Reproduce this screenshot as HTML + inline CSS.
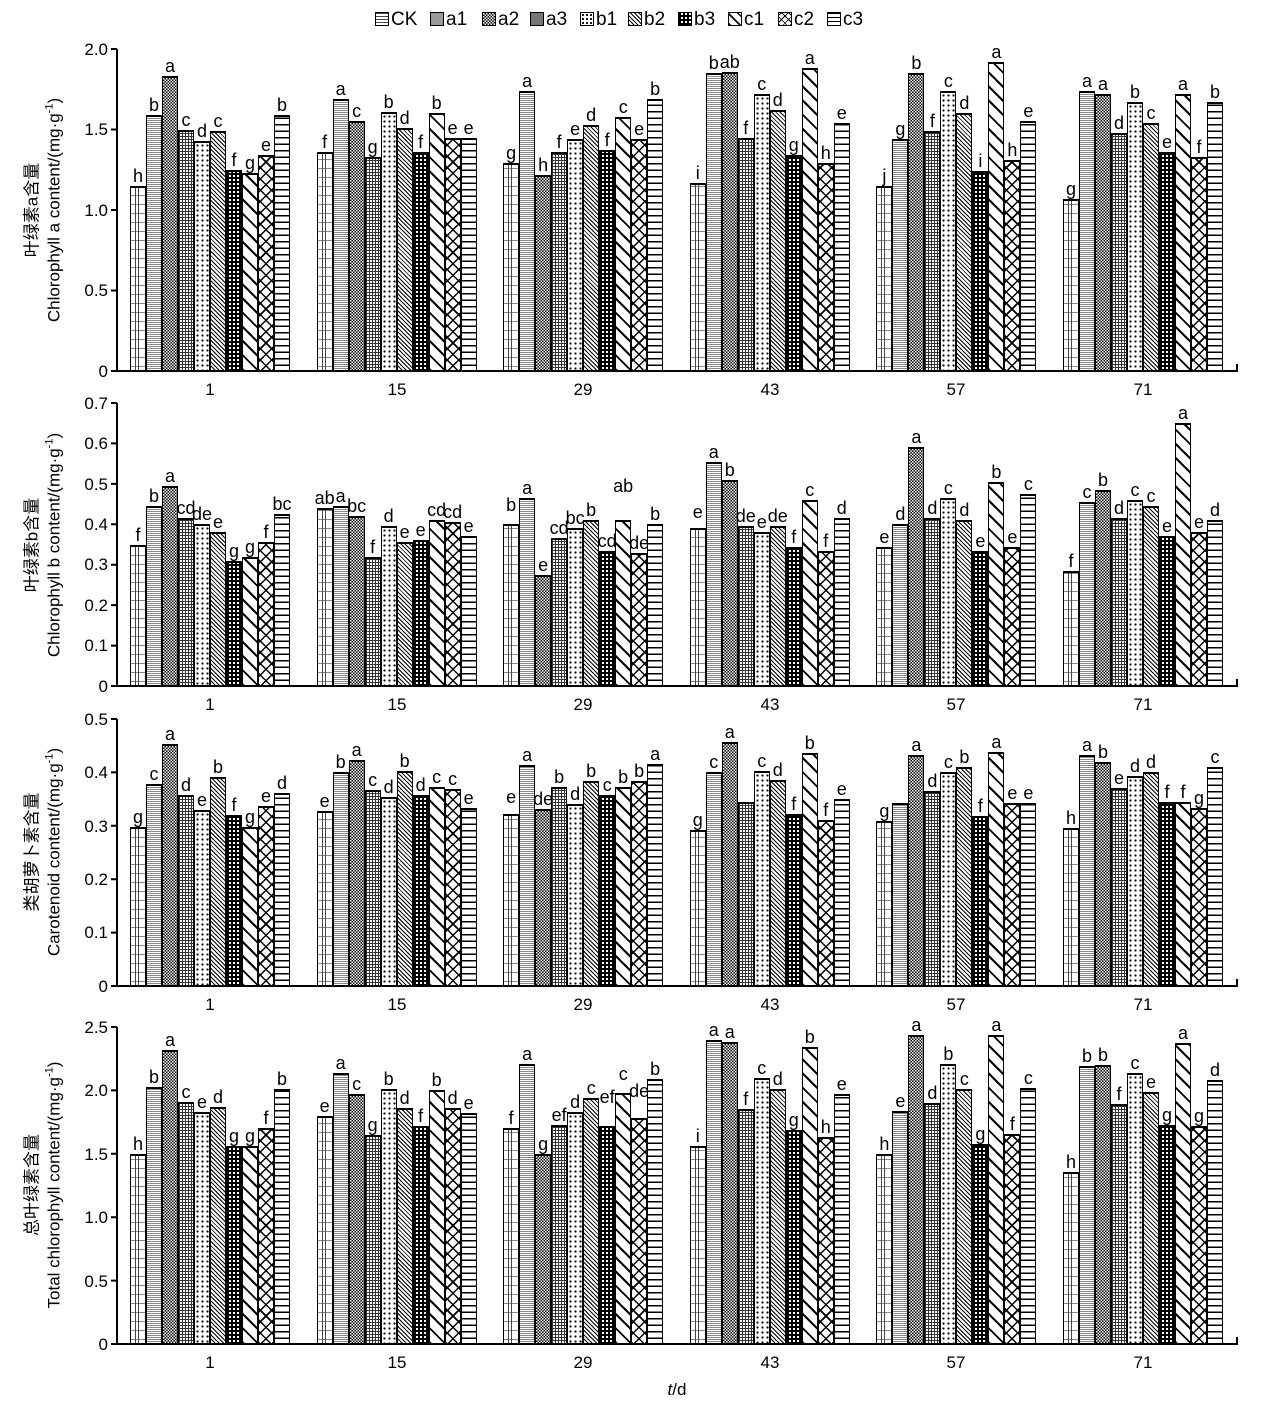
<!DOCTYPE html>
<html><head><meta charset="utf-8"><style>
body{margin:0;width:1270px;height:1412px;background:#fff;position:relative;font-family:"Liberation Sans","Noto Sans CJK SC",sans-serif;overflow:hidden}
.pl{position:absolute;left:117px;width:1120px}
.g{position:absolute;bottom:0;height:100%;width:160px;display:flex;align-items:flex-end}
.g:nth-child(1){left:13px}.g:nth-child(2){left:199.6px}.g:nth-child(3){left:386.2px}.g:nth-child(4){left:572.8px}.g:nth-child(5){left:759.4px}.g:nth-child(6){left:946px}
.g i{position:relative;display:block;font-style:normal;width:16px;flex:none;box-sizing:border-box;border:1.5px solid #000;border-top-width:2.5px;border-bottom:none;height:calc(var(--v) * var(--k));background-color:#fff}
.g i b{position:absolute;bottom:100%;left:-12px;right:-12px;text-align:center;font-weight:normal;font-style:normal;font-size:18px;line-height:1;margin-bottom:3px}
.g i:nth-child(1){background:repeating-linear-gradient(90deg,transparent 0 4px,#444 4px 5px,transparent 5px 7px,#444 7px 8px,transparent 8px 13px),repeating-linear-gradient(0deg,#fff 0 4px,#888 4px 5px,#fff 5px 9px)}
.g i:nth-child(2){background:repeating-linear-gradient(0deg,#888 0 1px,#fff 1px 2px),repeating-linear-gradient(90deg,#888 0 1px,#ddd 1px 2px)}
.g i:nth-child(3){background:conic-gradient(#000 25%,#fff 0 50%,#000 0 75%,#fff 0) 0 0/3px 3px}
.g i:nth-child(4){background:repeating-linear-gradient(0deg,#333 0 1px,transparent 1px 3px),repeating-linear-gradient(90deg,#333 0 1px,#fff 1px 3px)}
.g i:nth-child(5){background:radial-gradient(#000 0.9px,transparent 1.3px) 0 0/5px 5px,#fff}
.g i:nth-child(6){background:repeating-linear-gradient(45deg,#000 0 1px,#fff 1px 3px)}
.g i:nth-child(7){background:repeating-linear-gradient(0deg,#000 0 2px,transparent 2px 4px),repeating-linear-gradient(90deg,#000 0 2px,#fff 2px 4px)}
.g i:nth-child(8){background:repeating-linear-gradient(45deg,#000 0 2px,#fff 2px 10px)}
.g i:nth-child(9){background:repeating-linear-gradient(45deg,#000 0 1.5px,transparent 1.5px 8px),repeating-linear-gradient(-45deg,#000 0 1.5px,#fff 1.5px 8px)}
.g i:nth-child(10){background:repeating-linear-gradient(0deg,#fff 0 5px,#000 5px 6.5px)}
.yl{position:absolute;transform:translate(-50%,-50%) rotate(-90deg);white-space:nowrap;font-size:17px}
.lg{position:absolute;top:10px;font-size:19px;line-height:19px}
.lg span{position:absolute;left:0;top:2px;width:14px;height:14px;border:1px solid #000;box-sizing:border-box}
.lg em{font-style:normal;margin-left:16px}
</style></head><body>

<div class="lg" style="left:375px"><span style="background:repeating-linear-gradient(0deg,#fff 0 2px,#444 2px 3px)"></span><em>CK</em></div>
<div class="lg" style="left:430px"><span style="background:#999"></span><em>a1</em></div>
<div class="lg" style="left:482px"><span style="background:conic-gradient(#000 25%,#fff 0 50%,#000 0 75%,#fff 0) 0 0/3px 3px"></span><em>a2</em></div>
<div class="lg" style="left:530px"><span style="background:#777"></span><em>a3</em></div>
<div class="lg" style="left:580px"><span style="background:radial-gradient(#000 0.9px,transparent 1.3px) 0 0/4px 4px,#fff"></span><em>b1</em></div>
<div class="lg" style="left:628px"><span style="background:repeating-linear-gradient(45deg,#000 0 1px,#fff 1px 3px)"></span><em>b2</em></div>
<div class="lg" style="left:678px"><span style="background:repeating-linear-gradient(0deg,#000 0 2px,transparent 2px 4px),repeating-linear-gradient(90deg,#000 0 2px,#fff 2px 4px)"></span><em>b3</em></div>
<div class="lg" style="left:728px"><span style="background:repeating-linear-gradient(45deg,#000 0 1.5px,#fff 1.5px 7px)"></span><em>c1</em></div>
<div class="lg" style="left:778px"><span style="background:repeating-linear-gradient(45deg,#000 0 1px,transparent 1px 5px),repeating-linear-gradient(-45deg,#000 0 1px,#fff 1px 5px)"></span><em>c2</em></div>
<div class="lg" style="left:827px"><span style="background:repeating-linear-gradient(0deg,#fff 0 3px,#000 3px 4px)"></span><em>c3</em></div>

<!-- Panel 1 -->
<div class="pl" style="top:49px;height:322px;--k:50%">
<div class="g"><i style="--v:1.15"><b>h</b></i><i style="--v:1.59"><b>b</b></i><i style="--v:1.83"><b>a</b></i><i style="--v:1.50"><b>c</b></i><i style="--v:1.43"><b>d</b></i><i style="--v:1.49"><b>c</b></i><i style="--v:1.25"><b>f</b></i><i style="--v:1.23"><b>g</b></i><i style="--v:1.34"><b>e</b></i><i style="--v:1.59"><b>b</b></i></div>
<div class="g"><i style="--v:1.36"><b>f</b></i><i style="--v:1.69"><b>a</b></i><i style="--v:1.55"><b>c</b></i><i style="--v:1.33"><b>g</b></i><i style="--v:1.61"><b>b</b></i><i style="--v:1.51"><b>d</b></i><i style="--v:1.36"><b>f</b></i><i style="--v:1.60"><b>b</b></i><i style="--v:1.45"><b>e</b></i><i style="--v:1.45"><b>e</b></i></div>
<div class="g"><i style="--v:1.29"><b>g</b></i><i style="--v:1.74"><b>a</b></i><i style="--v:1.22"><b>h</b></i><i style="--v:1.36"><b>f</b></i><i style="--v:1.44"><b>e</b></i><i style="--v:1.53"><b>d</b></i><i style="--v:1.37"><b>f</b></i><i style="--v:1.58"><b>c</b></i><i style="--v:1.44"><b>e</b></i><i style="--v:1.69"><b>b</b></i></div>
<div class="g"><i style="--v:1.17"><b>i</b></i><i style="--v:1.85"><b>b</b></i><i style="--v:1.86"><b>ab</b></i><i style="--v:1.45"><b>f</b></i><i style="--v:1.72"><b>c</b></i><i style="--v:1.62"><b>d</b></i><i style="--v:1.34"><b>g</b></i><i style="--v:1.88"><b>a</b></i><i style="--v:1.29"><b>h</b></i><i style="--v:1.54"><b>e</b></i></div>
<div class="g"><i style="--v:1.15"><b>j</b></i><i style="--v:1.44"><b>g</b></i><i style="--v:1.85"><b>b</b></i><i style="--v:1.49"><b>f</b></i><i style="--v:1.74"><b>c</b></i><i style="--v:1.60"><b>d</b></i><i style="--v:1.24"><b>i</b></i><i style="--v:1.92"><b>a</b></i><i style="--v:1.31"><b>h</b></i><i style="--v:1.55"><b>e</b></i></div>
<div class="g"><i style="--v:1.07"><b>g</b></i><i style="--v:1.74"><b>a</b></i><i style="--v:1.72"><b>a</b></i><i style="--v:1.48"><b>d</b></i><i style="--v:1.67"><b>b</b></i><i style="--v:1.54"><b>c</b></i><i style="--v:1.36"><b>e</b></i><i style="--v:1.72"><b>a</b></i><i style="--v:1.33"><b>f</b></i><i style="--v:1.67"><b>b</b></i></div>
</div>

<!-- Panel 2 -->
<div class="pl" style="top:403px;height:283px;--k:142.857%">
<div class="g"><i style="--v:.35"><b>f</b></i><i style="--v:.445"><b>b</b></i><i style="--v:.495"><b>a</b></i><i style="--v:.415"><b>cd</b></i><i style="--v:.40"><b>de</b></i><i style="--v:.38"><b>e</b></i><i style="--v:.31"><b>g</b></i><i style="--v:.32"><b>g</b></i><i style="--v:.355"><b>f</b></i><i style="--v:.425"><b>bc</b></i></div>
<div class="g"><i style="--v:.44"><b>ab</b></i><i style="--v:.445"><b>a</b></i><i style="--v:.42"><b>bc</b></i><i style="--v:.32"><b>f</b></i><i style="--v:.395"><b>d</b></i><i style="--v:.355"><b>e</b></i><i style="--v:.36"><b>e</b></i><i style="--v:.41"><b>cd</b></i><i style="--v:.405"><b>cd</b></i><i style="--v:.37"><b>e</b></i></div>
<div class="g"><i style="--v:.40"><b style="margin-bottom:12px">b</b></i><i style="--v:.465"><b>a</b></i><i style="--v:.275"><b>e</b></i><i style="--v:.365"><b>cd</b></i><i style="--v:.39"><b>bc</b></i><i style="--v:.41"><b>b</b></i><i style="--v:.335"><b>cd</b></i><i style="--v:.41"><b style="margin-bottom:27px">ab</b></i><i style="--v:.33"><b>de</b></i><i style="--v:.40"><b>b</b></i></div>
<div class="g"><i style="--v:.39"><b style="margin-bottom:9px">e</b></i><i style="--v:.555"><b>a</b></i><i style="--v:.51"><b>b</b></i><i style="--v:.395"><b>de</b></i><i style="--v:.38"><b>e</b></i><i style="--v:.395"><b>de</b></i><i style="--v:.345"><b>f</b></i><i style="--v:.46"><b>c</b></i><i style="--v:.335"><b>f</b></i><i style="--v:.415"><b>d</b></i></div>
<div class="g"><i style="--v:.345"><b>e</b></i><i style="--v:.40"><b>d</b></i><i style="--v:.59"><b>a</b></i><i style="--v:.415"><b>d</b></i><i style="--v:.465"><b>c</b></i><i style="--v:.41"><b>d</b></i><i style="--v:.335"><b>e</b></i><i style="--v:.505"><b>b</b></i><i style="--v:.345"><b>e</b></i><i style="--v:.475"><b>c</b></i></div>
<div class="g"><i style="--v:.285"><b>f</b></i><i style="--v:.455"><b>c</b></i><i style="--v:.485"><b>b</b></i><i style="--v:.415"><b>d</b></i><i style="--v:.46"><b>c</b></i><i style="--v:.445"><b>c</b></i><i style="--v:.37"><b>e</b></i><i style="--v:.65"><b>a</b></i><i style="--v:.38"><b>e</b></i><i style="--v:.41"><b>d</b></i></div>
</div>

<!-- Panel 3 -->
<div class="pl" style="top:719px;height:267px;--k:200%">
<div class="g"><i style="--v:.298"><b>g</b></i><i style="--v:.378"><b>c</b></i><i style="--v:.453"><b>a</b></i><i style="--v:.358"><b>d</b></i><i style="--v:.330"><b>e</b></i><i style="--v:.392"><b>b</b></i><i style="--v:.320"><b>f</b></i><i style="--v:.298"><b>g</b></i><i style="--v:.337"><b>e</b></i><i style="--v:.362"><b>d</b></i></div>
<div class="g"><i style="--v:.327"><b>e</b></i><i style="--v:.400"><b>b</b></i><i style="--v:.423"><b>a</b></i><i style="--v:.368"><b>c</b></i><i style="--v:.354"><b>d</b></i><i style="--v:.403"><b>b</b></i><i style="--v:.358"><b>d</b></i><i style="--v:.373"><b>c</b></i><i style="--v:.369"><b>c</b></i><i style="--v:.334"><b>e</b></i></div>
<div class="g"><i style="--v:.322"><b style="margin-bottom:10px">e</b></i><i style="--v:.414"><b>a</b></i><i style="--v:.331"><b>de</b></i><i style="--v:.373"><b>b</b></i><i style="--v:.340"><b>d</b></i><i style="--v:.384"><b>b</b></i><i style="--v:.358"><b>c</b></i><i style="--v:.373"><b>b</b></i><i style="--v:.383"><b>b</b></i><i style="--v:.416"><b>a</b></i></div>
<div class="g"><i style="--v:.293"><b>g</b></i><i style="--v:.400"><b>c</b></i><i style="--v:.457"><b>a</b></i><i style="--v:.345"></i><i style="--v:.402"><b>c</b></i><i style="--v:.385"><b>d</b></i><i style="--v:.322"><b>f</b></i><i style="--v:.437"><b>b</b></i><i style="--v:.310"><b>f</b></i><i style="--v:.350"><b>e</b></i></div>
<div class="g"><i style="--v:.309"><b>g</b></i><i style="--v:.343"></i><i style="--v:.432"><b>a</b></i><i style="--v:.365"><b>d</b></i><i style="--v:.400"><b>c</b></i><i style="--v:.410"><b>b</b></i><i style="--v:.318"><b>f</b></i><i style="--v:.438"><b>a</b></i><i style="--v:.343"><b>e</b></i><i style="--v:.343"><b>e</b></i></div>
<div class="g"><i style="--v:.296"><b>h</b></i><i style="--v:.432"><b>a</b></i><i style="--v:.420"><b>b</b></i><i style="--v:.370"><b>e</b></i><i style="--v:.394"><b>d</b></i><i style="--v:.400"><b>d</b></i><i style="--v:.345"><b>f</b></i><i style="--v:.345"><b>f</b></i><i style="--v:.333"><b>g</b></i><i style="--v:.410"><b>c</b></i></div>
</div>

<!-- Panel 4 -->
<div class="pl" style="top:1027px;height:317px;--k:40%">
<div class="g"><i style="--v:1.50"><b>h</b></i><i style="--v:2.03"><b>b</b></i><i style="--v:2.32"><b>a</b></i><i style="--v:1.91"><b>c</b></i><i style="--v:1.83"><b>e</b></i><i style="--v:1.87"><b>d</b></i><i style="--v:1.56"><b>g</b></i><i style="--v:1.56"><b>g</b></i><i style="--v:1.70"><b>f</b></i><i style="--v:2.01"><b>b</b></i></div>
<div class="g"><i style="--v:1.80"><b>e</b></i><i style="--v:2.14"><b>a</b></i><i style="--v:1.97"><b>c</b></i><i style="--v:1.65"><b>g</b></i><i style="--v:2.01"><b>b</b></i><i style="--v:1.86"><b>d</b></i><i style="--v:1.72"><b>f</b></i><i style="--v:2.00"><b>b</b></i><i style="--v:1.86"><b>d</b></i><i style="--v:1.82"><b>e</b></i></div>
<div class="g"><i style="--v:1.70"><b>f</b></i><i style="--v:2.21"><b>a</b></i><i style="--v:1.50"><b>g</b></i><i style="--v:1.73"><b>ef</b></i><i style="--v:1.83"><b>d</b></i><i style="--v:1.94"><b>c</b></i><i style="--v:1.72"><b style="margin-bottom:22px">ef</b></i><i style="--v:1.98"><b style="margin-bottom:12px">c</b></i><i style="--v:1.78"><b style="margin-bottom:20px">de</b></i><i style="--v:2.09"><b>b</b></i></div>
<div class="g"><i style="--v:1.56"><b>i</b></i><i style="--v:2.40"><b>a</b></i><i style="--v:2.38"><b>a</b></i><i style="--v:1.85"><b>f</b></i><i style="--v:2.10"><b>c</b></i><i style="--v:2.01"><b>d</b></i><i style="--v:1.69"><b>g</b></i><i style="--v:2.34"><b>b</b></i><i style="--v:1.63"><b>h</b></i><i style="--v:1.97"><b>e</b></i></div>
<div class="g"><i style="--v:1.50"><b>h</b></i><i style="--v:1.84"><b>e</b></i><i style="--v:2.44"><b>a</b></i><i style="--v:1.90"><b>d</b></i><i style="--v:2.21"><b>b</b></i><i style="--v:2.01"><b>c</b></i><i style="--v:1.58"><b>g</b></i><i style="--v:2.44"><b>a</b></i><i style="--v:1.66"><b>f</b></i><i style="--v:2.02"><b>c</b></i></div>
<div class="g"><i style="--v:1.36"><b>h</b></i><i style="--v:2.19"><b>b</b></i><i style="--v:2.20"><b>b</b></i><i style="--v:1.89"><b>f</b></i><i style="--v:2.14"><b>c</b></i><i style="--v:1.99"><b>e</b></i><i style="--v:1.73"><b>g</b></i><i style="--v:2.37"><b>a</b></i><i style="--v:1.72"><b>g</b></i><i style="--v:2.08"><b>d</b></i></div>
</div>

<svg width="1270" height="1412" style="position:absolute;left:0;top:0" font-family="Liberation Sans, sans-serif" font-size="17">
<g stroke="#000" stroke-width="2" fill="none">
<path d="M117 49V371H1237V364"/><path d="M117 403V686H1237V679"/><path d="M117 719V986H1237V979"/><path d="M117 1027V1344H1237V1337"/>
<path d="M111 49H117M111 129.5H117M111 210H117M111 290.5H117M111 371H117"/>
<path d="M111 403H117M111 443.4H117M111 483.9H117M111 524.3H117M111 564.7H117M111 605.1H117M111 645.6H117M111 686H117"/>
<path d="M111 719H117M111 772.4H117M111 825.8H117M111 879.2H117M111 932.6H117M111 986H117"/>
<path d="M111 1027H117M111 1090.4H117M111 1153.8H117M111 1217.2H117M111 1280.6H117M111 1344H117"/>
</g>
<g text-anchor="end">
<text x="108" y="55">2.0</text><text x="108" y="135">1.5</text><text x="108" y="216">1.0</text><text x="108" y="296">0.5</text><text x="108" y="377">0</text>
<text x="108" y="409">0.7</text><text x="108" y="449">0.6</text><text x="108" y="490">0.5</text><text x="108" y="530">0.4</text><text x="108" y="570">0.3</text><text x="108" y="611">0.2</text><text x="108" y="651">0.1</text><text x="108" y="692">0</text>
<text x="108" y="725">0.5</text><text x="108" y="778">0.4</text><text x="108" y="832">0.3</text><text x="108" y="885">0.2</text><text x="108" y="938">0.1</text><text x="108" y="992">0</text>
<text x="108" y="1033">2.5</text><text x="108" y="1096">2.0</text><text x="108" y="1160">1.5</text><text x="108" y="1223">1.0</text><text x="108" y="1287">0.5</text><text x="108" y="1350">0</text>
</g>
<g text-anchor="middle">
<text x="210" y="395">1</text><text x="397" y="395">15</text><text x="583" y="395">29</text><text x="770" y="395">43</text><text x="956" y="395">57</text><text x="1143" y="395">71</text>
<text x="210" y="710">1</text><text x="397" y="710">15</text><text x="583" y="710">29</text><text x="770" y="710">43</text><text x="956" y="710">57</text><text x="1143" y="710">71</text>
<text x="210" y="1010">1</text><text x="397" y="1010">15</text><text x="583" y="1010">29</text><text x="770" y="1010">43</text><text x="956" y="1010">57</text><text x="1143" y="1010">71</text>
<text x="210" y="1368">1</text><text x="397" y="1368">15</text><text x="583" y="1368">29</text><text x="770" y="1368">43</text><text x="956" y="1368">57</text><text x="1143" y="1368">71</text>
<text x="677" y="1395"><tspan font-style="italic">t</tspan>/d</text>
</g>
</svg>

<div class="yl" style="left:30px;top:210px">叶绿素a含量</div>
<div class="yl" style="left:54px;top:210px">Chlorophyll a content/(mg·g<sup style="font-size:11px">-1</sup>)</div>
<div class="yl" style="left:30px;top:545px">叶绿素b含量</div>
<div class="yl" style="left:54px;top:545px">Chlorophyll b content/(mg·g<sup style="font-size:11px">-1</sup>)</div>
<div class="yl" style="left:30px;top:852px">类胡萝卜素含量</div>
<div class="yl" style="left:54px;top:852px">Carotenoid content/(mg·g<sup style="font-size:11px">-1</sup>)</div>
<div class="yl" style="left:30px;top:1185px">总叶绿素含量</div>
<div class="yl" style="left:54px;top:1185px">Total chlorophyll content/(mg·g<sup style="font-size:11px">-1</sup>)</div>
</body></html>
